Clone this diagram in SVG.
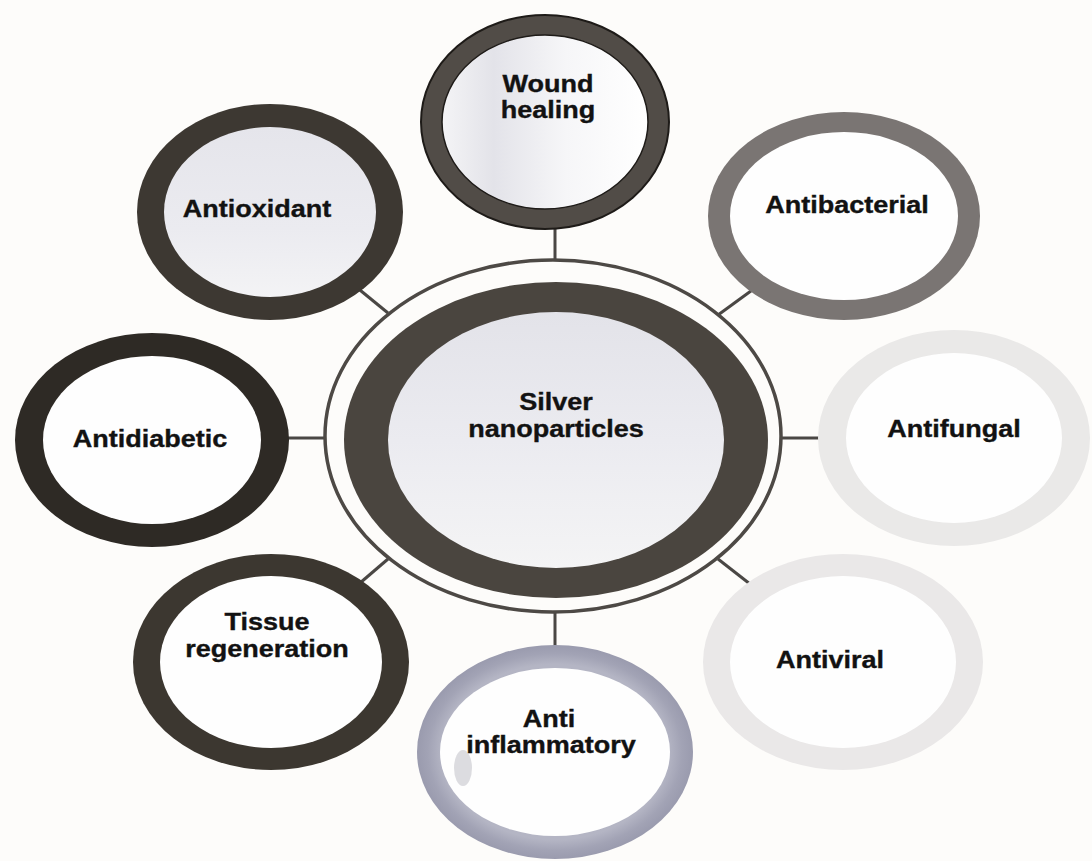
<svg xmlns="http://www.w3.org/2000/svg" width="1092" height="861" viewBox="0 0 1092 861">
  <defs>
    <style>
      .lbl { font-family: "Liberation Sans", Arial, Helvetica, sans-serif; font-weight: bold; font-size: 23.5px; fill: #121212; stroke: #121212; stroke-width: 0.35px; text-anchor: middle; }
      .link { stroke: #4a4744; stroke-width: 3; fill: none; }
    </style>
    <linearGradient id="fillWound" x1="0" y1="0" x2="1" y2="0">
      <stop offset="0" stop-color="#f4f4f6"/>
      <stop offset="0.25" stop-color="#e3e3e9"/>
      <stop offset="0.6" stop-color="#f6f6f8"/>
      <stop offset="1" stop-color="#ffffff"/>
    </linearGradient>
    <linearGradient id="fillSoft" x1="0" y1="0" x2="0" y2="1">
      <stop offset="0" stop-color="#e5e5eb"/>
      <stop offset="0.6" stop-color="#ebebf0"/>
      <stop offset="1" stop-color="#f3f3f5"/>
    </linearGradient>
    <linearGradient id="fillCore" x1="0" y1="0" x2="0" y2="1">
      <stop offset="0" stop-color="#e3e3e9"/>
      <stop offset="0.5" stop-color="#ebebf0"/>
      <stop offset="1" stop-color="#f4f4f5"/>
    </linearGradient>
    <radialGradient id="bandLilac" cx="0.5" cy="0.5" r="0.5">
      <stop offset="0.82" stop-color="#b4b5c4"/>
      <stop offset="0.92" stop-color="#a2a3b5"/>
      <stop offset="1" stop-color="#9a9bae"/>
    </radialGradient>
  </defs>

  <rect width="1092" height="861" fill="#fdfcfa"/>

  <!-- spokes from the hub ring out to each property ring -->
  <g id="connectors">
    <line class="link" x1="555" y1="261" x2="555" y2="222"/>
    <line class="link" x1="555" y1="611" x2="555" y2="652"/>
    <line class="link" x1="326" y1="438" x2="285" y2="438"/>
    <line class="link" x1="780" y1="438" x2="825" y2="438"/>
    <line class="link" x1="388" y1="313" x2="355" y2="286"/>
    <line class="link" x1="718" y1="315" x2="755" y2="288"/>
    <line class="link" x1="388" y1="559" x2="360" y2="583"/>
    <line class="link" x1="718" y1="559" x2="750" y2="584"/>
  </g>

  <!-- hub -->
  <g id="hub">
    <ellipse cx="553" cy="436" rx="228" ry="176" fill="none" stroke="#4d4945" stroke-width="3.5"/>
    <ellipse cx="556" cy="440" rx="212" ry="158" fill="#4a453f"/>
    <ellipse cx="556" cy="440" rx="168" ry="128" fill="url(#fillCore)"/>
    <text class="lbl" transform="translate(556 410) scale(1.15 1)">Silver</text>
    <text class="lbl" transform="translate(556 437) scale(1.15 1)">nanoparticles</text>
  </g>

  <g id="wound-healing">
    <ellipse cx="545" cy="122" rx="124" ry="107" fill="#514c47" stroke="#1e1b18" stroke-width="2"/>
    <ellipse cx="545" cy="122" rx="103" ry="87" fill="url(#fillWound)" stroke="#1e1b18" stroke-width="1.5"/>
    <text class="lbl" transform="translate(548 92) scale(1.15 1)">Wound</text>
    <text class="lbl" transform="translate(548 118) scale(1.15 1)">healing</text>
  </g>

  <g id="antioxidant">
    <ellipse cx="270" cy="212" rx="133" ry="108" fill="#3d3832"/>
    <ellipse cx="270" cy="212" rx="106" ry="85" fill="url(#fillSoft)"/>
    <text class="lbl" transform="translate(257 217) scale(1.15 1)">Antioxidant</text>
  </g>

  <g id="antibacterial">
    <ellipse cx="844" cy="216" rx="136" ry="104" fill="#7a7573"/>
    <ellipse cx="844" cy="216" rx="114" ry="84" fill="#fefefe"/>
    <text class="lbl" transform="translate(847 213) scale(1.15 1)">Antibacterial</text>
  </g>

  <g id="antidiabetic">
    <ellipse cx="152" cy="440" rx="137" ry="107" fill="#2e2a25"/>
    <ellipse cx="152" cy="440" rx="109" ry="84" fill="#fefefe"/>
    <text class="lbl" transform="translate(150 447) scale(1.15 1)">Antidiabetic</text>
  </g>

  <g id="antifungal">
    <ellipse cx="954" cy="438" rx="136" ry="108" fill="#eae9e8"/>
    <ellipse cx="954" cy="438" rx="108" ry="85" fill="#fefefe"/>
    <text class="lbl" transform="translate(954 437) scale(1.15 1)">Antifungal</text>
  </g>

  <g id="tissue-regeneration">
    <ellipse cx="271" cy="662" rx="138" ry="108" fill="#3c3730"/>
    <ellipse cx="271" cy="662" rx="111" ry="86" fill="#fefefe"/>
    <text class="lbl" transform="translate(267 630) scale(1.15 1)">Tissue</text>
    <text class="lbl" transform="translate(267 657) scale(1.15 1)">regeneration</text>
  </g>

  <g id="antiviral">
    <ellipse cx="843" cy="662" rx="140" ry="108" fill="#eae8e8"/>
    <ellipse cx="843" cy="662" rx="113" ry="86" fill="#fefefe"/>
    <text class="lbl" transform="translate(830 668) scale(1.15 1)">Antiviral</text>
  </g>

  <g id="anti-inflammatory">
    <ellipse cx="555" cy="752" rx="138" ry="107" fill="url(#bandLilac)"/>
    <ellipse cx="555" cy="752" rx="115" ry="84" fill="#fefefe"/>
    <ellipse cx="463" cy="768" rx="9" ry="18" fill="#dcdce0"/>
    <text class="lbl" transform="translate(549 727) scale(1.15 1)">Anti</text>
    <text class="lbl" transform="translate(551 753) scale(1.15 1)">inflammatory</text>
  </g>
</svg>
